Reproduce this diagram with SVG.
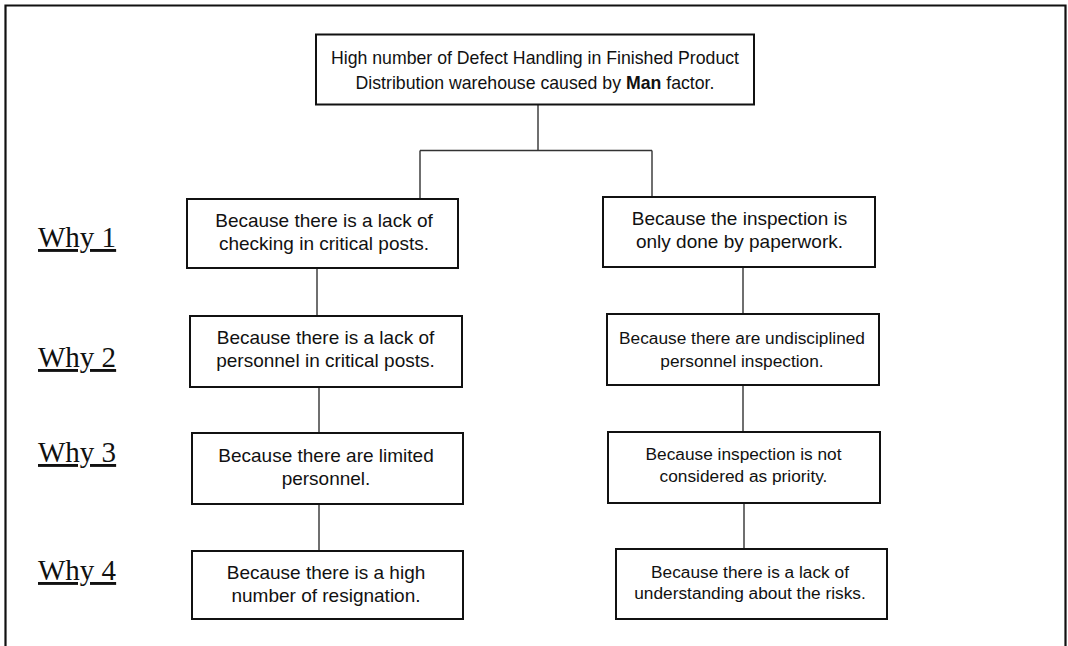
<svg xmlns="http://www.w3.org/2000/svg" width="1068" height="646" viewBox="0 0 1068 646">
<style>
.box{fill:#fff;stroke:#111;stroke-width:2}
.t{font-family:"Liberation Sans",Arial,sans-serif;fill:#111;text-anchor:middle}
.l{font-size:19px}
.s{font-size:17.3px}
.why{font-family:"Liberation Serif","Times New Roman",serif;font-size:29px;fill:#111;text-decoration:underline}
.c{stroke:#333;stroke-width:1.4;fill:none}
</style>
<rect width="1068" height="646" fill="#fff"/>
<path d="M5.5,646 V5.5 H1065.5 V646" fill="none" stroke="#111" stroke-width="2.2"/>
<g id="labels">
<text class="why" x="38" y="247">Why 1</text>
<text class="why" x="38" y="367">Why 2</text>
<text class="why" x="38" y="462">Why 3</text>
<text class="why" x="38" y="580">Why 4</text>
</g>
<g id="connectors">
<path class="c" d="M538,104 V150.5 M420,150.5 H652 M420,150.5 V199 M652,150.5 V197"/>
<path class="c" d="M317,268 V316 M319,387 V433 M319,504 V551"/>
<path class="c" d="M743,267 V314 M743,385 V432 M744,503 V549"/>
</g>
<g id="top">
<rect class="box" x="316" y="34.5" width="438" height="70"/>
<text class="t" x="535" y="63.5" font-size="17.7">High number of Defect Handling in Finished Product</text>
<text class="t" x="535" y="88.5" font-size="17.7">Distribution warehouse caused by <tspan font-weight="bold">Man</tspan> factor.</text>
</g>
<g id="L1">
<rect class="box" x="187" y="199" width="271" height="69"/>
<text class="t l" x="324" y="226.5">Because there is a lack of</text>
<text class="t l" x="324" y="249.5">checking in critical posts.</text>
</g>
<g id="L2">
<rect class="box" x="190" y="316" width="272" height="71"/>
<text class="t l" x="325.5" y="344">Because there is a lack of</text>
<text class="t l" x="325.5" y="367">personnel in critical posts.</text>
</g>
<g id="L3">
<rect class="box" x="192" y="433" width="271" height="71"/>
<text class="t l" x="326" y="461.5">Because there are limited</text>
<text class="t l" x="326" y="485">personnel.</text>
</g>
<g id="L4">
<rect class="box" x="192" y="551" width="271" height="68"/>
<text class="t l" x="326" y="579">Because there is a high</text>
<text class="t l" x="326" y="601.5">number of resignation.</text>
</g>
<g id="R1">
<rect class="box" x="603" y="197" width="272" height="70"/>
<text class="t l" x="739.5" y="225">Because the inspection is</text>
<text class="t l" x="739.5" y="247.5">only done by paperwork.</text>
</g>
<g id="R2">
<rect class="box" x="607" y="314" width="272" height="71"/>
<text class="t s" x="742" y="344">Because there are undisciplined</text>
<text class="t s" x="742" y="366.5">personnel inspection.</text>
</g>
<g id="R3">
<rect class="box" x="608" y="432" width="272" height="71"/>
<text class="t s" x="743.5" y="460">Because inspection is not</text>
<text class="t s" x="743.5" y="481.5">considered as priority.</text>
</g>
<g id="R4">
<rect class="box" x="616" y="549" width="271" height="70"/>
<text class="t s" x="750" y="577.5">Because there is a lack of</text>
<text class="t s" x="750" y="598.5">understanding about the risks.</text>
</g>
</svg>
